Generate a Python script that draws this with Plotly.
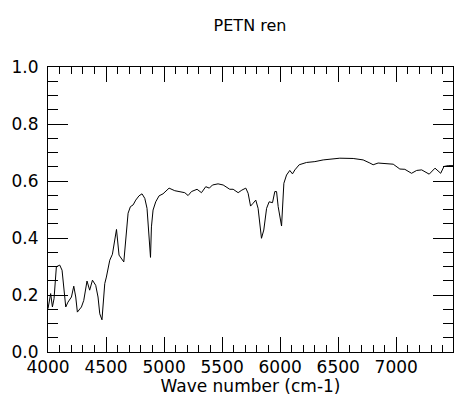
import plotly.graph_objects as go

wavenumber = [4000, 4023, 4038, 4052, 4072, 4101, 4121, 4153, 4172, 4202, 4222, 4239, 4253, 4288,
              4308, 4336, 4359, 4383, 4411, 4431, 4446, 4465, 4489, 4503, 4532, 4555, 4590, 4612,
              4653, 4676, 4690, 4710, 4733, 4756, 4784, 4810, 4834, 4853, 4871, 4883, 4891, 4905,
              4928, 4957, 4991, 5021, 5043, 5092, 5135, 5178, 5207, 5236, 5284, 5322, 5359, 5390,
              5417, 5465, 5509, 5543, 5566, 5595, 5638, 5670, 5704, 5724, 5745, 5767, 5790, 5810,
              5825, 5839, 5859, 5883, 5905, 5934, 5954, 5969, 5983, 6012, 6032, 6055, 6083, 6106,
              6127, 6164, 6227, 6299, 6371, 6457, 6514, 6629, 6715, 6773, 6801, 6844, 6917, 6974,
              7031, 7074, 7132, 7176, 7219, 7250, 7284, 7334, 7362, 7383, 7411, 7448, 7489]
reflectance = [0.152, 0.205, 0.158, 0.187, 0.299, 0.305, 0.287, 0.158, 0.175, 0.193, 0.231, 0.193,
               0.140, 0.158, 0.181, 0.249, 0.217, 0.252, 0.234, 0.193, 0.134, 0.113, 0.240, 0.263,
               0.322, 0.343, 0.430, 0.340, 0.316, 0.428, 0.487, 0.510, 0.516, 0.533, 0.548, 0.555,
               0.539, 0.504, 0.404, 0.332, 0.439, 0.498, 0.527, 0.548, 0.555, 0.566, 0.575, 0.566,
               0.563, 0.559, 0.549, 0.563, 0.571, 0.559, 0.580, 0.575, 0.586, 0.590, 0.586, 0.578,
               0.571, 0.571, 0.559, 0.568, 0.575, 0.557, 0.512, 0.522, 0.533, 0.504, 0.451, 0.399,
               0.428, 0.504, 0.527, 0.524, 0.563, 0.563, 0.510, 0.442, 0.592, 0.621, 0.637, 0.625,
               0.639, 0.657, 0.665, 0.668, 0.674, 0.677, 0.680, 0.679, 0.674, 0.663, 0.657, 0.663,
               0.662, 0.659, 0.642, 0.641, 0.627, 0.637, 0.639, 0.633, 0.624, 0.645, 0.636, 0.627,
               0.651, 0.654, 0.654]

title_text = "PETN ren"
x_title = "Wave number (cm-1)"

FONT = "DejaVu Sans, Liberation Sans, Arial, sans-serif"

fig = go.Figure()
fig.add_trace(go.Scatter(x=wavenumber, y=reflectance, mode="lines",
                         line=dict(color="black", width=1), showlegend=False))

fig.update_layout(
    width=454, height=396,
    margin=dict(l=48, r=1, t=67, b=44),
    paper_bgcolor="white", plot_bgcolor="white",
    font=dict(family=FONT, size=17, color="black"),
    title=dict(text=title_text, x=250 / 454, xref="container", xanchor="center",
               y=1 - 25 / 396, yref="container", yanchor="middle",
               font=dict(family=FONT, size=16, color="black")),
)
fig.update_xaxes(
    range=[4000, 7489], tick0=4000, dtick=500, showgrid=False, zeroline=False,
    showline=True, linecolor="black", linewidth=1, mirror="allticks",
    ticks="inside", ticklen=15, tickwidth=1, tickcolor="black",
    minor=dict(dtick=100, tick0=4000, ticks="inside", ticklen=7, tickcolor="black", showgrid=False),
    title=dict(text=x_title, standoff=0, font=dict(size=17)),
    tickfont=dict(size=17), ticklabelstandoff=0,
)
fig.update_yaxes(
    range=[0, 1], tick0=0, dtick=0.2, tickformat=".1f", showgrid=False, zeroline=False,
    showline=True, linecolor="black", linewidth=1, mirror="allticks",
    ticks="inside", ticklen=20, tickwidth=1, tickcolor="black",
    minor=dict(dtick=0.05, tick0=0, ticks="inside", ticklen=10, tickcolor="black", showgrid=False),
    tickfont=dict(size=17), ticklabelstandoff=5,
)

fig.write_html("out.html")
